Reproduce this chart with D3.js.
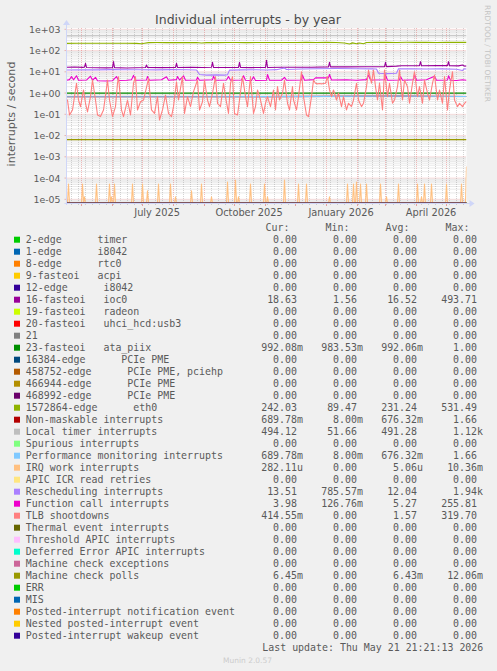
<!DOCTYPE html>
<html><head><meta charset="utf-8">
<script src="https://cdn.jsdelivr.net/npm/d3@7"></script>
<style>
html,body{margin:0;padding:0;background:#F0F0F0;}
svg{display:block;}
text{font-family:"DejaVu Sans",sans-serif;}
.mono{font-family:"DejaVu Sans Mono",monospace;white-space:pre;}
</style></head><body>
<svg id="c" width="497" height="671"></svg>
<script>
// ---------------- DATA ----------------
const endTime = Date.UTC(2026, 4, 21, 21, 21, 13);
const spanDays = 400;

const yTickValues = [1e3, 1e2, 1e1, 1e0, 1e-1, 1e-2, 1e-3, 1e-4, 1e-5];
const yTickLabels = ["1e+03", "1e+02", "1e+01", "1e+00", "1e-01", "1e-02", "1e-03", "1e-04", "1e-05"];

const seriesNames = [
  "2-edge      timer", "1-edge      i8042", "8-edge      rtc0", "9-fasteoi   acpi",
  "12-edge      i8042", "16-fasteoi   ioc0", "19-fasteoi   radeon", "20-fasteoi   uhci_hcd:usb3",
  "21", "23-fasteoi   ata_piix", "16384-edge      PCIe PME", "458752-edge      PCIe PME, pciehp",
  "466944-edge      PCIe PME", "468992-edge      PCIe PME", "1572864-edge      eth0",
  "Non-maskable interrupts", "Local timer interrupts", "Spurious interrupts",
  "Performance monitoring interrupts", "IRQ work interrupts", "APIC ICR read retries",
  "Rescheduling interrupts", "Function call interrupts", "TLB shootdowns",
  "Thermal event interrupts", "Threshold APIC interrupts", "Deferred Error APIC interrupts",
  "Machine check exceptions", "Machine check polls", "ERR", "MIS",
  "Posted-interrupt notification event", "Nested posted-interrupt event", "Posted-interrupt wakeup event"
];
const seriesColors = [
  "#00CC00", "#0066B3", "#FF8000", "#FFCC00", "#330099", "#990099", "#CCFF00", "#FF0000",
  "#808080", "#008F00", "#00487D", "#B35A00", "#B38F00", "#6B006B", "#8FB300", "#B30000",
  "#BEBEBE", "#80FF80", "#80C9FF", "#FFC080", "#FFE680", "#AA80FF", "#EE00CC", "#FF8080",
  "#666600", "#FFBFFF", "#00FFCC", "#CC6699", "#999900", "#00CC00", "#0066B3", "#FF8000",
  "#FFCC00", "#330099"
];
const curVals = ["0.00","0.00","0.00","0.00","0.00","18.63","0.00","0.00","0.00","992.08m","0.00","0.00","0.00","0.00","242.03","689.78m","494.12","0.00","689.78m","282.11u","0.00","13.51","3.98","414.55m","0.00","0.00","0.00","0.00","6.45m","0.00","0.00","0.00","0.00","0.00"];
const minVals = ["0.00","0.00","0.00","0.00","0.00","1.56","0.00","0.00","0.00","983.53m","0.00","0.00","0.00","0.00","89.47","8.00m","51.66","0.00","8.00m","0.00","0.00","785.57m","126.76m","0.00","0.00","0.00","0.00","0.00","0.00","0.00","0.00","0.00","0.00","0.00"];
const avgVals = ["0.00","0.00","0.00","0.00","0.00","16.52","0.00","0.00","0.00","992.06m","0.00","0.00","0.00","0.00","231.24","676.32m","491.28","0.00","676.32m","5.06u","0.00","12.04","5.27","1.57","0.00","0.00","0.00","0.00","6.43m","0.00","0.00","0.00","0.00","0.00"];
const maxVals = ["0.00","0.00","0.00","0.00","0.00","493.71","0.00","0.00","0.00","1.00","0.00","0.00","0.00","0.00","531.49","1.66","1.12k","0.00","1.66","10.36m","0.00","1.94k","255.81","319.70","0.00","0.00","0.00","0.00","12.06m","0.00","0.00","0.00","0.00","0.00"];

// series points: [day offset from start, value]
const zeroPts = [[0, 0], [400, 0]];
const ioc0Pts = [[0,16.5],[8,16.8],[16,16.2],[18,16.5],[19,25],[20,16],[30,15.5],[40,15.3],[46,15.8],[47,30],[48,15.8],[60,15.2],[70,15.6],[79,16],[80,21],[81,16],[95,15.8],[109,16],[110,25],[111,16],[125,16.2],[136,16],[145,16.5],[146,28],[147,16],[160,16],[172,16.2],[173,28],[174,16.2],[185,15.8],[199,16],[200,35],[201,16],[215,16.3],[230,16.5],[245,16.5],[262,17],[263,28],[264,17],[280,17],[300,17.2],[318,17.5],[319,28],[320,17.5],[330,18.5],[335,19.3],[353,19.3],[354,30],[355,19.3],[370,19.5],[381,19.5],[382,30],[383,19.5],[392,19.0],[396,21],[398,18.5],[400,18.6]];
const ataPts = [[0,0.99],[100,0.992],[200,0.991],[300,0.992],[400,0.992]];
const eth0Pts = [[0,218],[10,222],[20,220],[30,221],[40,219],[50,222],[60,220],[70,218],[75,210],[78,221],[82,236],[90,238],[100,236],[110,237],[120,235],[130,238],[135,228],[140,237],[150,236],[160,238],[170,240],[180,237],[190,239],[200,238],[210,240],[220,241],[230,239],[240,242],[250,240],[260,242],[270,240],[278,225],[283,205],[286,230],[290,210],[293,228],[297,208],[300,238],[310,242],[320,243],[330,241],[340,244],[350,242],[360,243],[370,241],[380,243],[390,242],[400,242]];
const nmiPts = [[0,0.67],[130,0.67],[200,0.68],[260,0.70],[330,0.72],[400,0.69]];
const localTimerPts = [[0,492],[40,495],[80,498],[120,500],[160,497],[200,499],[240,502],[280,498],[320,500],[360,497],[400,494]];
const pmiPts = [[0,0.67],[130,0.67],[200,0.68],[260,0.70],[330,0.72],[400,0.69]];
const irqWorkSpikes = [[2,5.2e-5],[16,5.2e-5],[18,1.3e-5],[30,5.2e-5],[43,5.2e-5],[45,1.3e-5],[48,5.2e-5],[66,5.2e-5],[76,5.2e-5],[81,2.5e-5],[92,5.2e-5],[104,5.2e-5],[109,1.3e-5],[125,2.5e-5],[135,5.2e-5],[145,1.3e-5],[161,6.5e-5],[169,8e-5],[172,1.3e-5],[184,5.2e-5],[198,5.2e-5],[201,1.3e-5],[218,8e-5],[232,5.2e-5],[240,5.2e-5],[263,1.3e-5],[281,5.2e-5],[287,5.2e-5],[290,6.5e-5],[294,5.2e-5],[300,5.2e-5],[314,5.2e-5],[320,1.3e-5],[332,5.2e-5],[351,5.2e-5],[355,1.3e-5],[358,5.2e-5],[365,5.2e-5],[380,5.2e-5],[395,5.2e-5],[400,3.5e-4]];
const reschedPts = [[0,12.2],[15,12.5],[30,12.3],[45,12.6],[60,12.4],[75,12.5],[90,12.3],[105,12.6],[120,12.4],[130,12.2],[133,7.5],[140,7.0],[150,7.2],[158,7.0],[161,7.3],[163,12.0],[175,12.3],[190,12.5],[200,12.2],[210,12.6],[218,15],[220,12.8],[235,13.5],[250,14.0],[270,14.2],[290,14],[305,13.8],[310,13.5],[312,8.5],[320,8.2],[330,8.6],[332,13.8],[345,14],[360,13.6],[375,13.8],[390,13.2],[396,11.5],[398,14],[400,13.5]];
const funcCallPts = [[0,4.0],[3,4.3],[5,6.0],[7,4.2],[10,6.5],[12,4.0],[20,4.1],[24,6.2],[26,4.0],[29,5.5],[31,3.8],[40,3.7],[46,3.8],[50,6.0],[52,3.9],[60,4.0],[65,4.2],[67,6.8],[69,4.0],[80,4.1],[81,6.0],[83,4.0],[95,4.2],[100,5.8],[102,4.0],[110,4.3],[111,6.0],[113,4.1],[117,6.5],[119,4.0],[130,4.1],[131,5.5],[133,4.0],[146,4.2],[147,6.2],[149,4.0],[160,4.1],[162,6.0],[164,4.0],[175,4.1],[177,6.5],[179,4.0],[185,3.9],[187,5.8],[189,3.9],[200,4.0],[201,7.5],[203,4.0],[215,4.0],[218,5.5],[220,4.0],[235,4.1],[236,7.0],[238,4.0],[247,4.3],[249,5.2],[262,5.2],[263,7.5],[265,4.1],[280,4.2],[290,4.0],[300,4.3],[302,7.0],[304,4.1],[318,4.2],[319,7.2],[321,4.0],[333,4.1],[334,6.0],[336,4.0],[347,4.2],[348,7.5],[350,4.0],[360,4.2],[368,6.2],[370,4.0],[381,4.1],[382,6.5],[384,4.0],[390,3.9],[396,4.2],[400,3.98]];
const tlbPts = [[0,0.45],[1,0.47],[3,0.093],[6,0.16],[8,0.68],[10,2.9],[12,0.47],[14,0.23],[17,1.4],[19,0.33],[21,0.13],[24,0.68],[26,4.1],[29,0.47],[31,0.093],[34,0.078],[37,0.16],[40,1.7],[41,4.1],[43,0.47],[46,0.078],[49,0.23],[51,2.9],[52,5.9],[55,0.16],[57,0.078],[61,0.47],[64,0.093],[67,2.9],[69,5.9],[71,0.16],[74,0.39],[77,0.47],[81,2.9],[82,4.9],[85,0.16],[88,0.11],[91,0.68],[93,0.054],[96,0.16],[99,0.81],[102,0.11],[105,0.078],[107,0.23],[110,3.4],[112,0.47],[116,5.9],[118,0.11],[121,0.68],[124,0.23],[127,1.16],[131,4.1],[133,0.16],[136,0.39],[138,4.1],[141,0.47],[143,0.23],[146,0.98],[149,5.9],[151,0.33],[154,0.23],[157,2.9],[159,0.68],[162,0.11],[164,2.9],[166,5.9],[168,0.11],[171,0.093],[173,0.47],[176,5.9],[179,0.68],[181,0.23],[184,5.9],[187,0.11],[189,0.23],[191,1.4],[194,0.47],[197,0.11],[199,0.33],[201,0.68],[204,0.23],[207,1.4],[209,0.16],[211,2.0],[213,0.47],[216,0.98],[218,4.1],[221,0.33],[223,0.16],[226,2.0],[227,0.47],[230,0.16],[232,0.68],[235,10.1],[237,0.68],[240,0.093],[242,0.078],[245,0.68],[247,4.1],[249,2.9],[251,2.7],[253,2.8],[255,2.7],[257,2.8],[259,2.9],[261,5.9],[263,1.4],[265,0.68],[267,1.4],[270,0.47],[272,0.98],[275,0.23],[277,0.68],[280,0.16],[282,0.33],[285,0.23],[287,0.47],[290,2.9],[292,0.47],[295,0.23],[297,0.33],[300,2.0],[302,12],[305,2.9],[307,12],[309,2.0],[311,0.47],[313,2.9],[316,0.16],[318,12],[321,0.68],[323,2.9],[326,0.33],[328,0.47],[331,2.0],[333,12],[336,0.47],[338,4.1],[341,2.0],[343,0.33],[346,2.9],[348,10.1],[351,0.68],[353,2.0],[356,0.33],[358,4.1],[361,0.98],[363,0.47],[366,2.9],[368,7],[371,0.47],[373,1.4],[376,0.33],[378,5.9],[381,0.16],[383,1.4],[386,10.1],[388,0.47],[391,0.23],[393,0.33],[396,0.23],[398,0.33],[400,0.41]];
const mcPollPts = [[0,0.00640],[200,0.00643],[400,0.00645]];

// ---------------- BUILD ----------------
function spikesToPts(sp) {
  const pts = [[0, 0]];
  sp.forEach(([d, v]) => {
    if (d - 1 > pts[pts.length - 1][0]) pts.push([d - 1, 0]);
    pts.push([d, v]);
    if (d + 1 <= spanDays) pts.push([d + 1, 0]);
  });
  if (pts[pts.length - 1][0] < spanDays) pts.push([spanDays, 0]);
  return pts;
}
const seriesData = seriesNames.map(() => zeroPts);
seriesData[5] = ioc0Pts;
seriesData[9] = ataPts;
seriesData[14] = eth0Pts;
seriesData[15] = nmiPts;
seriesData[16] = localTimerPts;
seriesData[18] = pmiPts;
seriesData[19] = spikesToPts(irqWorkSpikes);
seriesData[21] = reschedPts;
seriesData[22] = funcCallPts;
seriesData[23] = tlbPts;
seriesData[28] = mcPollPts;

const DAY = 86400000;
const endDate = new Date(endTime);
const startDate = new Date(endTime - spanDays * DAY);
const dayDate = d => new Date(startDate.getTime() + d * DAY);

const PL = 66.5, PR = 466.5, PT = 28, PB = 203;
const x = d3.scaleUtc().domain([startDate, endDate]).range([PL, PR]);
const y = d3.scaleLog().domain([1e-5, 1e3]).range([199.3, 29.3]);
const yPos = v => v > 0 ? Math.min(PB + 2, y(v)) : PB;

const svg = d3.select("#c");
const FONT = "#5a5a5a";
const GRID = "rgba(143,143,143,0.38)";
const MGRID = "rgba(222,79,79,0.38)";

svg.append("rect").attr("width", 497).attr("height", 671).attr("fill", "#F0F0F0");
svg.append("rect").attr("x", PL).attr("y", PT).attr("width", PR - PL).attr("height", PB - PT).attr("fill", "#FFFFFF");

svg.append("clipPath").attr("id", "plot").append("rect")
  .attr("x", PL).attr("y", PT).attr("width", PR - PL).attr("height", PB - PT);

const grid = svg.append("g");
// minor horizontal (log) grid
for (let k = -6; k <= 3; k++) {
  for (let m = 2; m <= 9; m++) {
    const v = m * Math.pow(10, k);
    const yy = y(v);
    if (yy < PT || yy > PB) continue;
    grid.append("line").attr("x1", PL).attr("x2", PR).attr("y1", yy).attr("y2", yy)
      .attr("stroke", GRID).attr("stroke-width", 1).attr("stroke-dasharray", "1,1");
  }
}
// minor vertical weekly grid
const months = d3.utcMonth.range(startDate, endDate);
d3.utcMonday.range(startDate, endDate).forEach(t => {
  if (months.some(m => m.getTime() === t.getTime())) return;
  const xx = Math.round(x(t)) + 0.5;
  grid.append("line").attr("x1", xx).attr("x2", xx).attr("y1", PT).attr("y2", PB)
    .attr("stroke", GRID).attr("stroke-dasharray", "1,1");
  grid.append("line").attr("x1", xx).attr("x2", xx).attr("y1", PB).attr("y2", PB + 2)
    .attr("stroke", GRID);
});
// major horizontal
yTickValues.forEach(v => {
  const yy = y(v);
  grid.append("line").attr("x1", PL).attr("x2", PR).attr("y1", yy).attr("y2", yy)
    .attr("stroke", MGRID).attr("stroke-dasharray", "1,1");
  grid.append("line").attr("x1", PL - 2).attr("x2", PL).attr("y1", yy).attr("y2", yy)
    .attr("stroke", MGRID);
});
// major vertical monthly
months.forEach(t => {
  const xx = Math.round(x(t)) + 0.5;
  grid.append("line").attr("x1", xx).attr("x2", xx).attr("y1", PT).attr("y2", PB)
    .attr("stroke", MGRID).attr("stroke-dasharray", "1,1");
  grid.append("line").attr("x1", xx).attr("x2", xx).attr("y1", PB).attr("y2", PB + 3)
    .attr("stroke", "rgba(222,79,79,0.5)");
});

// series
const line = d3.line().x(d => x(dayDate(d[0]))).y(d => yPos(d[1]));
const sg = svg.append("g").attr("clip-path", "url(#plot)");
seriesData.forEach((pts, i) => {
  sg.append("path").attr("d", line(pts)).attr("fill", "none")
    .attr("stroke", seriesColors[i]).attr("stroke-width", 1.1).attr("stroke-linejoin", "round");
});

// axes with arrows
const AX = "#CFD6F8";
svg.append("line").attr("x1", PL - 2).attr("x2", PR + 4).attr("y1", PB + 0.5).attr("y2", PB + 0.5).attr("stroke", AX);
svg.append("path").attr("d", `M${PR + 3},${PB - 3} L${PR + 8},${PB + 0.5} L${PR + 3},${PB + 4} Z`).attr("fill", AX);
svg.append("line").attr("x1", PL).attr("x2", PL).attr("y1", PB + 2).attr("y2", PT - 4).attr("stroke", AX);
svg.append("path").attr("d", `M${PL - 3.5},${PT - 3} L${PL},${PT - 8} L${PL + 3.5},${PT - 3} Z`).attr("fill", AX);

// fit helper
function fit(sel, target, base) {
  sel.attr("font-size", base);
  const w = sel.node().getComputedTextLength();
  sel.attr("font-size", base * target / w);
  return base * target / w;
}

// y tick labels
let yfs = null;
yTickValues.forEach((v, i) => {
  const t = svg.append("text").attr("x", 60.5).attr("y", y(v)).attr("text-anchor", "end")
    .attr("dominant-baseline", "central").attr("fill", FONT).text(yTickLabels[i]);
  if (yfs === null) yfs = fit(t, 31.5, 9.4); else t.attr("font-size", yfs);
});

// x labels every 3 months, centered half a month after the month start
const labFmt = d3.utcFormat("%B %Y");
let xfs = null;
d3.utcMonth.every(3).range(d3.utcMonth.floor(startDate), endDate).forEach(t => {
  const lt = new Date(t.getTime() + 15.5 * DAY);
  if (lt < startDate || lt > endDate) return;
  const tx = svg.append("text").attr("x", x(lt)).attr("y", 212.3).attr("text-anchor", "middle")
    .attr("dominant-baseline", "central").attr("fill", FONT).text(labFmt(t));
  if (xfs === null) xfs = fit(tx, 45.7, 9.4); else tx.attr("font-size", xfs);
});

// title
const title = svg.append("text").attr("x", 248).attr("y", 19.3).attr("text-anchor", "middle")
  .attr("dominant-baseline", "central").attr("fill", "#4a4a4a").text("Individual interrupts - by year");
fit(title, 186, 12.5);

// y axis title
const yt = svg.append("text").attr("transform", "translate(11,114) rotate(-90)").attr("text-anchor", "middle")
  .attr("dominant-baseline", "central").attr("fill", FONT).text("interrupts / second");
fit(yt, 105, 10.5);

// rrdtool watermark
const wm = svg.append("text").attr("transform", "translate(487.5,53.5) rotate(90)").attr("text-anchor", "middle")
  .attr("dominant-baseline", "central").attr("fill", "#C4C4C4").text("RRDTOOL / TOBI OETIKER");
fit(wm, 97, 7.5);

// legend
const lg = svg.append("g");
const hdrY = 227.7;
[["Cur:", 266], ["Min:", 326], ["Avg:", 386], ["Max:", 446]].forEach(([s, xx]) => {
  lg.append("text").attr("class", "mono").attr("x", xx - 0.5).attr("y", hdrY).attr("dominant-baseline", "central")
    .attr("fill", FONT).attr("font-size", 9.93).text(s);
});
const colEnds = [297, 357, 417, 477];
const cols = [curVals, minVals, avgVals, maxVals];
seriesNames.forEach((name, i) => {
  const yy = 239.7 + 12 * i;
  lg.append("rect").attr("x", 14).attr("y", yy - 3).attr("width", 6).attr("height", 6).attr("fill", seriesColors[i]);
  lg.append("text").attr("class", "mono").attr("xml:space", "preserve").attr("x", 25.8).attr("y", yy)
    .attr("dominant-baseline", "central").attr("fill", FONT).attr("font-size", 9.93).text(name);
  cols.forEach((arr, c) => {
    const s = arr[i];
    const last = s[s.length - 1];
    const hasUnit = /[a-zA-Z]/.test(last);
    const num = hasUnit ? s.slice(0, -1) : s;
    lg.append("text").attr("class", "mono").attr("x", colEnds[c]).attr("y", yy).attr("text-anchor", "end")
      .attr("dominant-baseline", "central").attr("fill", FONT).attr("font-size", 9.93).text(num);
    if (hasUnit) {
      lg.append("text").attr("class", "mono").attr("x", colEnds[c]).attr("y", yy)
        .attr("dominant-baseline", "central").attr("fill", FONT).attr("font-size", 9.93).text(last);
    }
  });
});
lg.append("text").attr("class", "mono").attr("x", 483.3).attr("y", 647.7).attr("text-anchor", "end")
  .attr("dominant-baseline", "central").attr("fill", FONT).attr("font-size", 9.93)
  .text("Last update: Thu May 21 21:21:13 2026");

const mn = svg.append("text").attr("x", 247.5).attr("y", 660).attr("text-anchor", "middle")
  .attr("dominant-baseline", "central").attr("fill", "#CCCCCC").text("Munin 2.0.57");
fit(mn, 49, 8);
</script>
</body></html>
